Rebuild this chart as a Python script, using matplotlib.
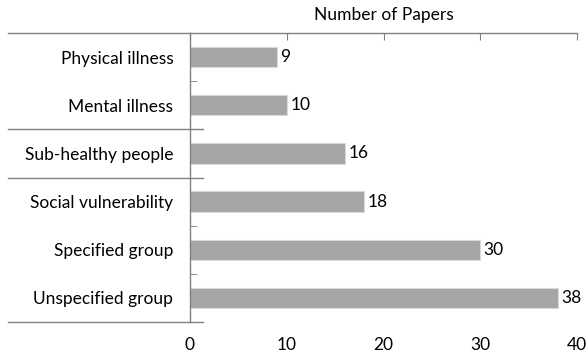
import matplotlib.pyplot as plt
from matplotlib.lines import Line2D

# Adatok
kategoriak = ["Physical illness", "Mental illness", "Sub-healthy people",
              "Social vulnerability", "Specified group", "Unspecified group"]
ertekek = [9, 10, 16, 18, 30, 38]
x_tickek = [0, 10, 20, 30, 40]

plt.rcParams['font.family'] = ['Lato', 'DejaVu Sans']
fs = 12.5

fig = plt.figure(figsize=(5.87, 3.55), dpi=100)
ax = fig.add_axes([190/587, 1 - 322/355, 387/587, 289/355])

pos = list(range(len(kategoriak)))
ax.barh(pos, ertekek, height=0.42, color='#a6a6a6', edgecolor='#d9d9d9', linewidth=0.8)
for p, v in zip(pos, ertekek):
    ax.text(v + 0.35, p, str(v), va='center', ha='left', fontsize=fs)

ax.set_xlim(0, 40)
ax.set_ylim(5.5, -0.5)
ax.set_yticks(pos)
ax.set_yticklabels(kategoriak, fontsize=fs)
ax.set_xticks(x_tickek)
ax.set_xticklabels([str(t) for t in x_tickek], fontsize=fs)

ax.tick_params(axis='y', which='major', length=0, pad=12)
ax.set_yticks([0.5, 3.5, 4.5], minor=True)
ax.tick_params(axis='y', which='minor', length=5, direction='in', color='#808080')
ax.tick_params(axis='x', which='major', bottom=False, top=True, length=5,
               direction='in', color='#808080', pad=11)

for s in ['right', 'bottom']:
    ax.spines[s].set_visible(False)
for s in ['left', 'top']:
    ax.spines[s].set_color('#808080')
    ax.spines[s].set_linewidth(1)

# Csoport elválasztó vonalak
trans = ax.get_yaxis_transform()
ax.add_line(Line2D([-0.47, 0], [-0.5, -0.5], transform=trans, color='#808080',
                   lw=1, clip_on=False))
for y in [1.5, 2.5, 5.5]:
    ax.add_line(Line2D([-0.47, 0.034], [y, y], transform=trans, color='#808080',
                       lw=1, clip_on=False))

fig.text(384/587, 1 - 15/355, "Number of Papers", ha='center', va='center', fontsize=fs)

fig.savefig("out.png", dpi=100)
